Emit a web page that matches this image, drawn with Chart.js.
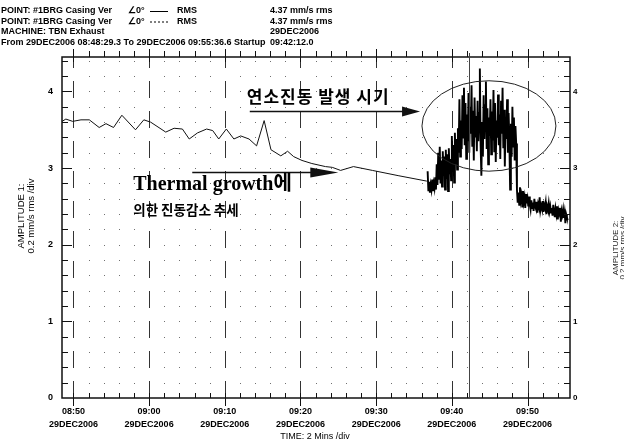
<!DOCTYPE html>
<html>
<head>
<meta charset="utf-8">
<script src="https://cdn.jsdelivr.net/npm/chart.js@4.4.1/dist/chart.umd.min.js"></script>
<style>
  html, body { margin: 0; padding: 0; background: #fff; }
  #wrap { width: 624px; height: 443px; }
</style>
</head>
<body>
<div id="wrap"><canvas id="trendChart" width="624" height="443"></canvas></div>
<script>
// RMS trend, #1BRG casing vertical, TBN exhaust
// x values are minutes after 08:50 on 29DEC2006

// --- Data ---

// slow decline before the combustion event
const trendMinutes = [-1.5, -1.0, -0.1, 1.0, 2.1, 3.4, 4.3, 5.3, 6.4, 8.2, 9.3, 10.2, 12.2, 13.3, 14.4,
  15.3, 16.4, 17.6, 18.4, 19.2, 20.2, 21.2, 22.1, 23.2, 24.2, 25.2, 26.1, 27.4, 28.3, 29.1, 30.2,
  31.5, 33.3, 34.2, 35.3, 37.0, 39.5, 43.0, 46.7];
const trendValues = [3.61, 3.64, 3.61, 3.63, 3.63, 3.53, 3.58, 3.53, 3.69, 3.50, 3.63, 3.60, 3.47, 3.52, 3.51,
  3.38, 3.46, 3.51, 3.49, 3.38, 3.51, 3.38, 3.42, 3.38, 3.29, 3.62, 3.24, 3.16, 3.22, 3.15, 3.10,
  3.06, 3.02, 3.01, 2.97, 3.02, 2.97, 2.90, 2.83];

// densely sampled part, one value every burstStep minutes from burstStart
const burstStart = 46.8;
const burstStep = 0.1;
const onsetValues = [2.96, 2.70, 2.82, 2.68, 2.78, 2.72, 2.85, 2.70, 2.80, 2.74, 2.88, 2.72, 3.05, 2.78, 3.20,
  2.85, 3.28, 2.80, 3.10, 2.76, 3.22, 2.90, 3.15, 2.72, 3.24, 2.86, 3.18, 2.70, 3.26, 2.92, 3.12];
const riseValues = [2.84, 3.42, 2.95, 3.30, 2.81, 3.46, 3.05, 3.38, 2.98, 3.52, 3.20, 3.90, 3.15, 3.62];
const combustionValues = [3.25, 3.95, 3.40, 4.05, 3.30, 3.85, 3.12, 3.70, 3.35, 3.98, 3.20, 3.80, 3.45, 4.08,
  3.28, 3.75, 3.10, 3.92, 3.40, 3.68, 3.22, 3.88, 3.35, 3.72, 4.30, 3.30, 2.90, 3.60, 3.15, 3.95,
  3.38, 3.82, 4.13, 3.25, 3.78, 3.05, 3.66, 3.42, 3.90, 3.18, 3.74, 3.36, 4.02, 3.22, 3.85, 3.08,
  3.62, 3.40, 3.96, 3.30, 3.70, 3.12, 3.88, 3.45, 4.05, 3.26, 3.76, 3.02, 3.64, 3.38, 3.90, 3.20,
  3.72, 3.34, 2.72, 3.58, 3.15, 3.80, 3.28, 3.66, 3.10, 3.55, 3.32];
const dropValues = [2.72, 2.55, 2.68, 2.52, 2.75, 2.58, 2.64, 2.50, 2.70, 2.56, 2.62, 2.48, 2.66, 2.54, 2.60,
  2.50, 2.63];
const settleValues = [2.52, 2.46, 2.58, 2.48, 2.55, 2.44, 2.60, 2.50, 2.47, 2.56, 2.42, 2.53, 2.49, 2.62, 2.45,
  2.51, 2.47, 2.57, 2.43, 2.52, 2.48, 2.55, 2.40, 2.50, 2.46, 2.54, 2.44];
const tailValues = [2.50, 2.42, 2.48, 2.38, 2.52, 2.44, 2.36, 2.47, 2.40, 2.50, 2.33, 2.45, 2.41, 2.48, 2.30,
  2.44, 2.39, 2.46, 2.35, 2.42, 2.28, 2.40, 2.36, 2.32];

const timeTicks = [0, 10, 20, 30, 40, 50, 60];
const timeLabels = [
  ['08:50', '29DEC2006'], ['09:00', '29DEC2006'], ['09:10', '29DEC2006'], ['09:20', '29DEC2006'],
  ['09:30', '29DEC2006'], ['09:40', '29DEC2006'], ['09:50', '29DEC2006']
];
const ampTicks = [0, 1, 2, 3, 4];
const cursorMinute = 52.2; // 09:42:12.0

const headerLeft = ['POINT: #1BRG Casing Ver', 'POINT: #1BRG Casing Ver', 'MACHINE: TBN Exhaust',
  'From 29DEC2006 08:48:29.3 To 29DEC2006 09:55:36.6 Startup'];
const headerAngle = ['\u22200\u00b0', '\u22200\u00b0'];
const headerTrace = ['RMS', 'RMS'];
const headerRight = ['4.37 mm/s rms', '4.37 mm/s rms', '29DEC2006', '09:42:12.0'];

const ampTitle1 = ['AMPLITUDE 1:', '0.2 mm/s rms /div'];
const ampTitle2 = ['AMPLITUDE 2:', '0.2 mm/s rms /div'];
const timeTitle = 'TIME: 2 Mins /div';

const noteCombustion = '연소진동 발생 시기';
const noteThermal1 = 'Thermal growth에';
const noteThermal2 = '의한 진동감소 추세';

// --- Layout (data coordinates for the annotations) ---

const SANS = '"Liberation Sans", Arial, sans-serif';
const KOR = '"Noto Sans CJK KR", sans-serif';
const SERIF = '"Liberation Serif", "Noto Sans CJK KR", serif';

const layout = {
  ellipse: { t: 54.9, v: 3.55, dt: 8.85, dv: 0.59 },
  upperArrow: { from: 23.3, to: 45.8, v: 3.74, head: 18 },
  lowerArrow: { from: 15.7, to: 35.0, v: 2.95, head: 28 },
  upperText: { t: 22.9, v: 3.94 },
  thermalText: { t: 7.9, v: 2.78 },
  thermalText2: { t: 7.9, v: 2.46 }
};

// --- Build points ---

const trendPoints = trendMinutes.map((t, i) => ({ x: t, y: trendValues[i] }));
const burstValues = [].concat(onsetValues, riseValues, combustionValues, dropValues, settleValues, tailValues);
const burstPoints = burstValues.map((v, i) => ({ x: +(burstStart + i * burstStep).toFixed(2), y: v }));

// --- Frame, grid and annotation plugin ---

function arrow(ctx, x1, x2, y, head) {
  ctx.beginPath();
  ctx.moveTo(x1, y);
  ctx.lineTo(x2 - head + 1, y);
  ctx.stroke();
  ctx.beginPath();
  ctx.moveTo(x2, y);
  ctx.lineTo(x2 - head, y - 5);
  ctx.lineTo(x2 - head, y + 5);
  ctx.closePath();
  ctx.fill();
}

function vtext(ctx, str, x, y, font) {
  ctx.save();
  ctx.translate(x, y);
  ctx.rotate(-Math.PI / 2);
  ctx.font = font;
  ctx.textAlign = 'center';
  ctx.textBaseline = 'middle';
  ctx.fillText(str, 0, 0);
  ctx.restore();
}

const chartFrame = {
  id: 'chartFrame',
  beforeDatasetsDraw(chart) {
    const { ctx, chartArea: a, scales: { x, y } } = chart;
    ctx.save();

    // dotted grid at the 2 min / 0.2 mm/s divisions
    ctx.fillStyle = '#707070';
    for (let m = 0; m <= 64; m += 2) {
      if (m % 10 === 0) continue;
      const px = Math.round(x.getPixelForValue(m));
      for (let k = 1; k <= 22; k++) {
        const py = Math.round(y.getPixelForValue(k * 0.2));
        if (py < a.top + 3) continue;
        ctx.fillRect(px, py, 1, 1);
      }
    }

    // dashed lines every 10 min
    ctx.strokeStyle = '#333';
    ctx.lineWidth = 1;
    ctx.setLineDash([17, 13]);
    timeTicks.forEach(m => {
      const px = Math.round(x.getPixelForValue(m)) + 0.5;
      ctx.beginPath();
      ctx.moveTo(px, a.bottom);
      ctx.lineTo(px, a.top);
      ctx.stroke();
    });
    ctx.setLineDash([]);
    ctx.restore();
  },
  afterDatasetsDraw(chart) {
    const { ctx, chartArea: a, scales: { x, y } } = chart;
    ctx.save();
    ctx.strokeStyle = '#111';
    ctx.fillStyle = '#111';

    // frame
    ctx.lineWidth = 1.5;
    ctx.strokeRect(a.left, a.top, a.right - a.left, a.bottom - a.top);

    // time ticks, top and bottom
    ctx.lineWidth = 1;
    ctx.beginPath();
    for (let m = 0; m <= 64; m += 2) {
      const px = Math.round(x.getPixelForValue(m)) + 0.5;
      const major = m % 10 === 0;
      ctx.moveTo(px, a.bottom + (major ? 8 : 0));
      ctx.lineTo(px, a.bottom - 5);
      ctx.moveTo(px, a.top - (major ? 8 : 6));
      ctx.lineTo(px, a.top + (major ? 5 : 0));
    }
    // amplitude ticks, left and right
    for (let k = 1; k <= 22; k++) {
      const py = Math.round(y.getPixelForValue(k * 0.2)) + 0.5;
      const len = k % 5 === 0 ? 10 : 6;
      ctx.moveTo(a.left, py);
      ctx.lineTo(a.left + len, py);
      ctx.moveTo(a.right, py);
      ctx.lineTo(a.right - len, py);
    }
    ctx.stroke();

    // cursor
    const cx = Math.round(x.getPixelForValue(cursorMinute)) + 0.5;
    ctx.strokeStyle = '#444';
    ctx.beginPath();
    ctx.moveTo(cx, a.top - 4);
    ctx.lineTo(cx, a.bottom);
    ctx.stroke();

    // ellipse round the combustion vibration
    const e = layout.ellipse;
    const ex = x.getPixelForValue(e.t);
    const ey = y.getPixelForValue(e.v);
    ctx.strokeStyle = '#222';
    ctx.beginPath();
    ctx.ellipse(ex, ey, x.getPixelForValue(e.t + e.dt) - ex, ey - y.getPixelForValue(e.v + e.dv), 0, 0, Math.PI * 2);
    ctx.stroke();

    // arrows
    ctx.strokeStyle = '#111';
    ctx.lineWidth = 1.4;
    [layout.upperArrow, layout.lowerArrow].forEach(ar => {
      arrow(ctx, x.getPixelForValue(ar.from), x.getPixelForValue(ar.to),
        Math.round(y.getPixelForValue(ar.v)) + 0.5, ar.head);
    });

    // notes
    ctx.fillStyle = '#000';
    ctx.textAlign = 'left';
    ctx.textBaseline = 'middle';
    ctx.font = 'bold 17px ' + KOR;
    ctx.letterSpacing = '1px';
    ctx.fillText(noteCombustion, x.getPixelForValue(layout.upperText.t), y.getPixelForValue(layout.upperText.v));
    ctx.letterSpacing = '0px';
    ctx.font = 'bold 20px ' + SERIF;
    ctx.fillText(noteThermal1, x.getPixelForValue(layout.thermalText.t), y.getPixelForValue(layout.thermalText.v));
    ctx.font = 'bold 13.5px ' + KOR;
    ctx.fillText(noteThermal2, x.getPixelForValue(layout.thermalText2.t), y.getPixelForValue(layout.thermalText2.v));
    ctx.restore();
  },
  afterDraw(chart) {
    const ctx = chart.ctx;
    ctx.save();
    ctx.fillStyle = '#000';
    ctx.strokeStyle = '#000';
    ctx.textBaseline = 'middle';
    ctx.textAlign = 'left';

    // header block
    const rows = [11, 21.5, 32, 43];
    ctx.font = 'bold 9px ' + SANS;
    headerLeft.forEach((s, i) => ctx.fillText(s, 1, rows[i]));
    headerAngle.forEach((s, i) => ctx.fillText(s, 128, rows[i]));
    headerTrace.forEach((s, i) => ctx.fillText(s, 177, rows[i]));
    headerRight.forEach((s, i) => ctx.fillText(s, 270, rows[i]));
    ctx.lineWidth = 1;
    ctx.beginPath();
    ctx.moveTo(150, rows[0] + 0.5);
    ctx.lineTo(168, rows[0] + 0.5);
    ctx.stroke();
    ctx.setLineDash([2, 2]);
    ctx.beginPath();
    ctx.moveTo(150, rows[1] + 0.5);
    ctx.lineTo(168, rows[1] + 0.5);
    ctx.stroke();
    ctx.setLineDash([]);

    // axis titles
    vtext(ctx, ampTitle1[0], 21, 216, '9.5px ' + SANS);
    vtext(ctx, ampTitle1[1], 31, 216, '9.5px ' + SANS);
    ctx.fillStyle = '#222';
    vtext(ctx, ampTitle2[0], 616, 248, '8px ' + SANS);
    vtext(ctx, ampTitle2[1], 623, 248, '8px ' + SANS);
    ctx.fillStyle = '#000';
    ctx.font = '9px ' + SANS;
    ctx.textAlign = 'center';
    ctx.fillText(timeTitle, 315, 437);
    ctx.restore();
  }
};

// --- Chart ---

const tickFont = { family: SANS, size: 9, weight: 'bold' };

new Chart(document.getElementById('trendChart').getContext('2d'), {
  type: 'line',
  data: {
    datasets: [{
      data: trendPoints,
      borderColor: '#111',
      borderWidth: 1,
      pointRadius: 0,
      fill: false,
      tension: 0
    }, {
      data: burstPoints,
      borderColor: '#000',
      borderWidth: 1.9,
      pointRadius: 0,
      fill: false,
      tension: 0
    }]
  },
  options: {
    responsive: false,
    animation: false,
    layout: { padding: { top: 57 } },
    scales: {
      x: {
        type: 'linear',
        min: -1.51,
        max: 65.61,
        afterFit: s => { s.height = 45; },
        afterBuildTicks: s => { s.ticks = timeTicks.map(v => ({ value: v })); },
        grid: { display: false, drawTicks: false },
        border: { display: false },
        ticks: {
          autoSkip: false,
          maxRotation: 0,
          padding: 7,
          color: '#000',
          font: { family: SANS, size: 9, weight: 'bold', lineHeight: 1.45 },
          callback: v => timeLabels[timeTicks.indexOf(v)]
        }
      },
      y: {
        position: 'left',
        min: 0,
        max: 4.45,
        afterFit: s => { s.width = 62; },
        afterBuildTicks: s => { s.ticks = ampTicks.map(v => ({ value: v })); },
        grid: { display: false, drawTicks: false },
        border: { display: false },
        ticks: { padding: 9, color: '#000', font: tickFont }
      },
      y2: {
        position: 'right',
        min: 0,
        max: 4.45,
        afterFit: s => { s.width = 54; },
        afterBuildTicks: s => { s.ticks = ampTicks.map(v => ({ value: v })); },
        grid: { display: false, drawTicks: false },
        border: { display: false },
        ticks: { padding: 3, color: '#000', font: { family: SANS, size: 8, weight: 'bold' } }
      }
    },
    plugins: {
      legend: { display: false },
      tooltip: { enabled: false }
    }
  },
  plugins: [chartFrame]
});
</script>
</body>
</html>
